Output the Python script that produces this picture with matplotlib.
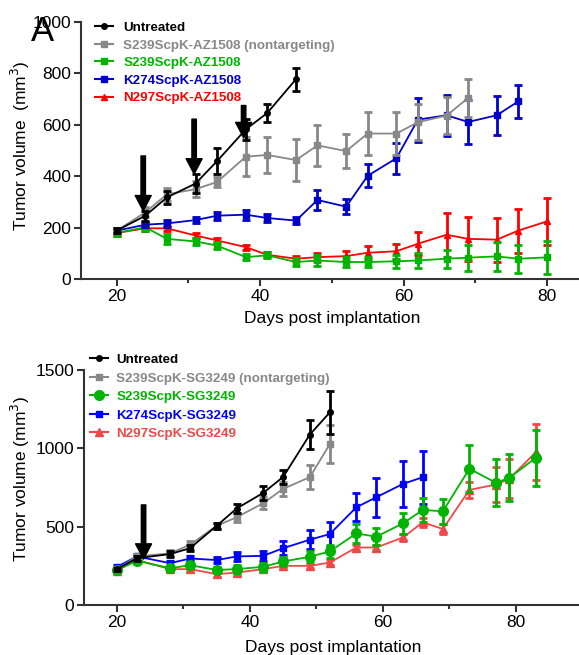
import matplotlib
matplotlib.use('Agg')
import matplotlib.pyplot as plt
from matplotlib.ticker import MultipleLocator
from matplotlib.lines import Line2D

plt.rcParams['font.family'] = ['Liberation Sans', 'DejaVu Sans']

# ---- panel A (AZ1508) ----
a_unt_days = [20, 24, 27, 31, 34, 38, 41, 45]
a_unt = [189, 247, 318, 372, 459, 582, 646, 777]
a_unt_err = [10, 20, 25, 35, 50, 40, 35, 45]

a_nt_days = [20, 24, 27, 31, 34, 38, 41, 45, 48, 52, 55, 59, 62, 66, 69]
a_nt = [189, 260, 330, 350, 378, 476, 483, 463, 520, 498, 566, 566, 610, 636, 704]
a_nt_err = [10, 20, 25, 30, 20, 75, 70, 80, 80, 65, 85, 85, 70, 73, 75]

a_k274_days = [20, 24, 27, 31, 34, 38, 41, 45, 48, 52, 55, 59, 62, 66, 69, 73, 76]
a_k274 = [189, 212, 217, 230, 247, 251, 238, 228, 308, 282, 402, 470, 620, 637, 611, 637, 691]
a_k274_err = [10, 10, 15, 12, 15, 20, 15, 15, 40, 30, 45, 60, 85, 80, 85, 75, 63]

a_days = [20, 24, 27, 31, 34, 38, 41, 45, 48, 52, 55, 59, 62, 66, 69, 73, 76, 80]
a_s239 = [180, 202, 157, 147, 131, 86, 93, 67, 73, 67, 67, 70, 73, 80, 84, 89, 80, 85]
a_s239_err = [10, 15, 20, 15, 15, 12, 12, 15, 20, 20, 20, 25, 30, 35, 50, 55, 55, 63]
a_n297 = [180, 198, 198, 170, 151, 125, 95, 80, 86, 90, 103, 109, 138, 173, 157, 154, 189, 225]
a_n297_err = [10, 10, 10, 10, 10, 10, 10, 10, 15, 20, 25, 30, 45, 85, 85, 85, 85, 90]

a_dose_days = [23.7, 30.8, 37.7]
a_dose_top = [479, 622, 675]
a_dose_tip = [266, 409, 550]

# ---- panel B (SG3249) ----
b_unt_days = [20, 23, 28, 31, 35, 38, 42, 45, 49, 52]
b_unt = [229, 299, 325, 363, 506, 616, 716, 818, 1088, 1229]
b_unt_err = [10, 15, 20, 20, 20, 30, 45, 45, 90, 140]
b_nt = [229, 310, 330, 385, 506, 560, 650, 742, 816, 1026]
b_nt_err = [10, 15, 20, 25, 20, 30, 40, 45, 75, 120]

b_k274_days = [20, 23, 28, 31, 35, 38, 42, 45, 49, 52, 56, 59, 63, 66]
b_k274 = [244, 310, 267, 297, 287, 310, 314, 363, 417, 453, 624, 688, 773, 816]
b_k274_err = [10, 15, 15, 15, 20, 30, 30, 45, 60, 75, 90, 125, 145, 170]

b_days = [20, 23, 28, 31, 35, 38, 42, 45, 49, 52, 56, 59, 63, 66, 69, 73, 77, 79, 83]
b_s239 = [224, 282, 235, 254, 224, 229, 244, 278, 308, 342, 457, 436, 521, 607, 598, 870, 780, 812, 940]
b_s239_err = [10, 10, 15, 20, 20, 25, 25, 30, 35, 40, 60, 55, 65, 75, 80, 150, 150, 150, 180]
b_n297 = [220, 288, 229, 229, 197, 207, 229, 250, 250, 271, 367, 367, 431, 528, 485, 735, 769, 806, 976]
b_n297_err = [10, 10, 15, 15, 15, 15, 15, 15, 15, 15, 15, 15, 20, 30, 30, 50, 110, 125, 180]

b_dose_days = [24]
b_dose_top = [639]
b_dose_tip = [293]

fig = plt.figure(figsize=(5.79, 6.55), dpi=100)
ax1 = fig.add_axes([0.1396, 0.5736, 0.867, 0.3931])
ax2 = fig.add_axes([0.1446, 0.0763, 0.8614, 0.3588])


def series(ax, x, y, e, color, marker, ms, label, z):
    ax.errorbar(x, y, yerr=e, color=color, marker=marker, ms=ms, lw=1.3,
                elinewidth=2, capsize=3, capthick=2, zorder=z, clip_on=False)
    return Line2D([], [], color=color, marker=marker, ms=ms, lw=1.5, label=label)


def style(ax, ymax, ystep, xmax):
    ax.set_xlim(15, xmax)
    ax.set_ylim(0, ymax)
    ax.yaxis.set_major_locator(MultipleLocator(ystep))
    ax.xaxis.set_major_locator(MultipleLocator(20))
    ax.xaxis.set_minor_locator(MultipleLocator(10))
    for s in ['top', 'right']:
        ax.spines[s].set_visible(False)
    for s in ['left', 'bottom']:
        ax.spines[s].set_linewidth(1.5)
        ax.spines[s].set_color('#333333')
    ax.tick_params(which='major', length=5, width=1.5, color='#333333', labelsize=12.5, pad=2)
    ax.tick_params(which='minor', length=3, width=1.5, color='#333333')
    ax.set_xlabel('Days post implantation', fontsize=12.5)


def arrows(ax, days, tops, tips):
    for d, t0, t1 in zip(days, tops, tips):
        ax.annotate('', xy=(d, t1), xytext=(d, t0),
                    arrowprops=dict(facecolor='black', edgecolor='black', width=3.2, headwidth=11.5,
                                    headlength=11, shrink=0), zorder=10)


def legend(ax, h, x, y, ls, pad):
    leg = ax.legend(handles=h, loc='upper left', bbox_to_anchor=(x, y), bbox_transform=fig.transFigure,
                    frameon=False, prop={'weight': 'bold', 'size': 9.6}, handlelength=1.35,
                    handletextpad=pad, labelspacing=ls, borderaxespad=0)
    for t, hh in zip(leg.get_texts(), h):
        t.set_color(hh.get_color())


h_n297 = series(ax1, a_days, a_n297, a_n297_err, '#ff0000', '^', 5, 'N297ScpK-AZ1508', 3)
h_s239 = series(ax1, a_days, a_s239, a_s239_err, '#00b400', 's', 5, 'S239ScpK-AZ1508', 4)
h_k274 = series(ax1, a_k274_days, a_k274, a_k274_err, '#0000c8', 's', 5, 'K274ScpK-AZ1508', 5)
h_nt = series(ax1, a_nt_days, a_nt, a_nt_err, '#888888', 's', 5, 'S239ScpK-AZ1508 (nontargeting)', 6)
h_unt = series(ax1, a_unt_days, a_unt, a_unt_err, '#000000', 'o', 4, 'Untreated', 7)
legend(ax1, [h_unt, h_nt, h_s239, h_k274, h_n297], 0.155, 0.975, 0.39, 0.75)
style(ax1, 1000, 200, 85)
ax1.set_ylabel('Tumor volume  (mm$^3$)', fontsize=12.5)
ax1.yaxis.set_label_coords(-0.098, 0.52)
ax1.xaxis.set_label_coords(0.5, -0.122)
arrows(ax1, a_dose_days, a_dose_top, a_dose_tip)

fig.text(0.053, 0.938, 'A', fontsize=25)

h_n297 = series(ax2, b_days, b_n297, b_n297_err, '#f04848', '^', 6, 'N297ScpK-SG3249', 3)
h_k274 = series(ax2, b_k274_days, b_k274, b_k274_err, '#0000ff', 's', 5, 'K274ScpK-SG3249', 4)
h_s239 = series(ax2, b_days, b_s239, b_s239_err, '#00b400', 'o', 7, 'S239ScpK-SG3249', 5)
h_nt = series(ax2, b_unt_days, b_nt, b_nt_err, '#888888', 's', 5, 'S239ScpK-SG3249 (nontargeting)', 6)
h_unt = series(ax2, b_unt_days, b_unt, b_unt_err, '#000000', 'o', 4, 'Untreated', 7)
legend(ax2, [h_unt, h_nt, h_s239, h_k274, h_n297], 0.147, 0.468, 0.46, 0.6)
style(ax2, 1500, 500, 90)
ax2.set_ylabel('Tumor volume (mm$^3$)', fontsize=12.5)
ax2.yaxis.set_label_coords(-0.104, 0.536)
ax2.xaxis.set_label_coords(0.5, -0.149)
arrows(ax2, b_dose_days, b_dose_top, b_dose_tip)

fig.savefig('out.png', dpi=100)
